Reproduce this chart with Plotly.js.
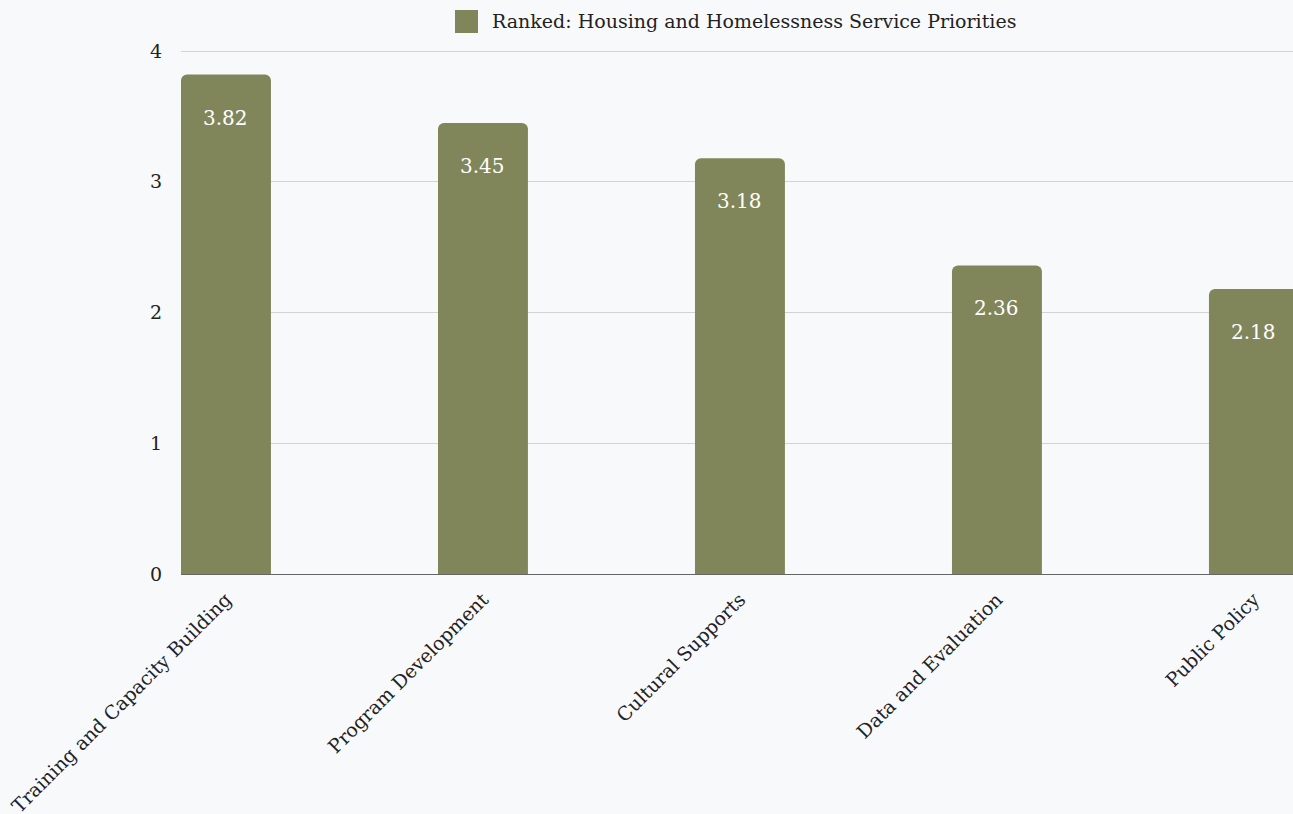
<!DOCTYPE html>
<html><head><meta charset="utf-8">
<script src="https://cdn.plot.ly/plotly-3.0.1.min.js"></script>
<style>html,body{margin:0;padding:0;background:#f8f9fb;}</style>
</head><body>
<div id="chart" style="width:1293px;height:814px;"></div>
<script>
const categories = ["Training and Capacity Building","Program Development","Cultural Supports","Data and Evaluation","Public Policy"];
const values = [3.82, 3.45, 3.18, 2.36, 2.18];
const seriesName = "Ranked: Housing and Homelessness Service Priorities";
const yTicks = [0,1,2,3,4];

const FONT = "DejaVu Serif, Liberation Serif, serif";
const barColor = "#80865a";

const trace = {
  type: "bar",
  x: categories,
  y: values,
  name: seriesName,
  marker: {color: barColor, cornerradius: 6},
  hoverinfo: "none",
  showlegend: false
};

const annotations = categories.map((c,i)=>({
  x: c, y: values[i], xref: "x", yref: "y",
  text: values[i].toFixed(2), showarrow: false,
  yshift: -43, font: {family: FONT, size: 20, color: "#ffffff"}
}));

// plot area: top 49px, bottom 240px -> height 525px
const PH = 525;
const toPaperY = px => (574 - px) / PH;
const toPaperX = px => (px - 181) / 1112;

// legend (drawn manually to match the large square swatch)
annotations.push({
  xref: "paper", yref: "paper", x: toPaperX(490), y: toPaperY(21),
  xanchor: "left", yanchor: "middle", showarrow: false,
  text: seriesName, font: {family: FONT, size: 19, color: "#222"}
});

const layout = {
  width: 1293, height: 814,
  paper_bgcolor: "#f8f9fb", plot_bgcolor: "#f8f9fb",
  margin: {l: 181, r: 0, t: 49, b: 240},
  font: {family: FONT, size: 18, color: "#222"},
  bargap: 0.65,
  showlegend: false,
  xaxis: {
    range: [-0.175, 4.152], tickangle: -45, showgrid: false,
    showline: true, linecolor: "#666", linewidth: 1, layer: "below traces",
    tickfont: {family: FONT, size: 19, color: "#222"}, automargin: false,
    ticks: "outside", ticklen: 6, tickcolor: "rgba(0,0,0,0)", fixedrange: true
  },
  yaxis: {
    range: [0, 4.0153], tickvals: yTicks, ticktext: yTicks.map(String),
    showgrid: true, gridcolor: "#d3d3d3", gridwidth: 1, zeroline: false,
    ticks: "outside", ticklen: 14, tickcolor: "rgba(0,0,0,0)",
    tickfont: {family: FONT, size: 19, color: "#222"}, automargin: false,
    layer: "below traces"
  },
  shapes: [{
    type: "rect", xref: "paper", yref: "paper",
    x0: toPaperX(455), x1: toPaperX(478), y0: toPaperY(33), y1: toPaperY(10),
    fillcolor: barColor, line: {width: 0}
  }],
  annotations: annotations
};

Plotly.newPlot("chart", [trace], layout, {displayModeBar: false, staticPlot: true});
</script>
</body></html>
